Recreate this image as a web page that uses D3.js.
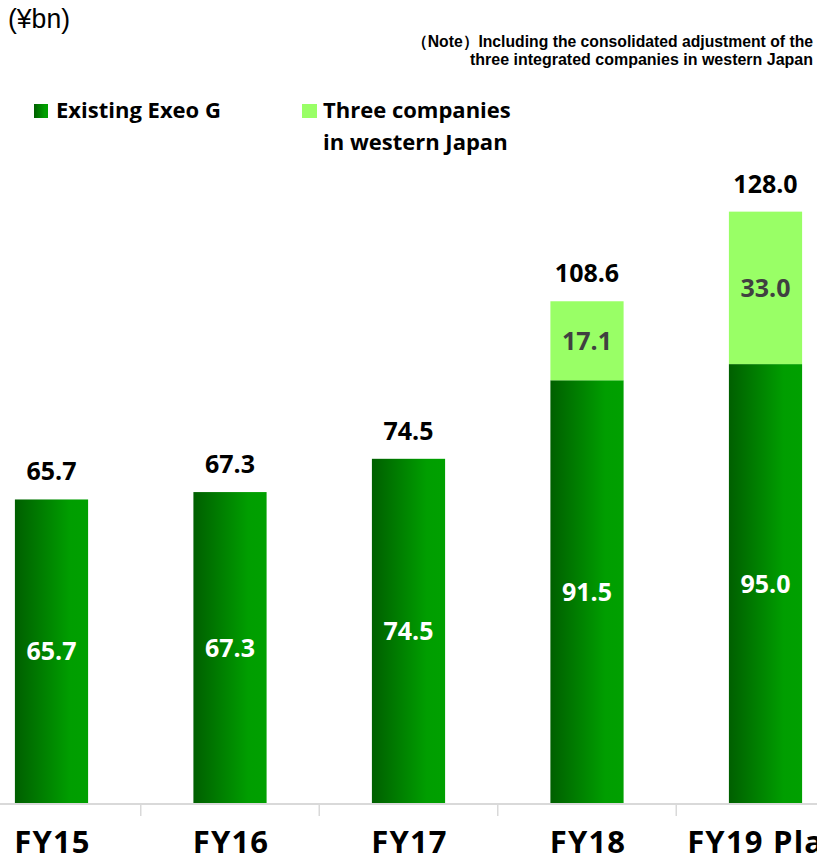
<!DOCTYPE html>
<html>
<head>
<meta charset="utf-8">
<script src="https://cdn.jsdelivr.net/npm/d3@7"></script>
<style>
  html, body { margin: 0; padding: 0; background: #fff; }
  svg { display: block; }
</style>
</head>
<body>
<svg id="chart" width="817" height="861"></svg>
<script>
// Net sales by fiscal year (¥bn)
const categories = ["FY15", "FY16", "FY17", "FY18", "FY19 Plan"];
const existingExeo = [65.7, 67.3, 74.5, 91.5, 95.0];
const westernJapan = [0, 0, 0, 17.1, 33.0];
const totals = [65.7, 67.3, 74.5, 108.6, 128.0];
const seriesNames = ["Existing Exeo G", "Three companies", "in western Japan"];
const unitLabel = "(¥bn)";
const noteLines = [
  "（Note）Including the consolidated adjustment of the",
  "three integrated companies in western Japan"
];

const W = 817, H = 861;
const svg = d3.select("#chart");
const font = "'Open Sans', 'Noto Sans', sans-serif";
const sansFont = "'Liberation Sans', Arial, sans-serif";

const defs = svg.append("defs");
const grad = defs.append("linearGradient")
  .attr("id", "exeoGrad").attr("x1", "0%").attr("x2", "100%").attr("y1", "0%").attr("y2", "0%");
grad.append("stop").attr("offset", "0%").attr("stop-color", "#005f00");
grad.append("stop").attr("offset", "75%").attr("stop-color", "#009e00");
grad.append("stop").attr("offset", "100%").attr("stop-color", "#00a000");

const lightGreen = "#99ff66";

const x = d3.scaleBand()
  .domain(categories)
  .range([-37.75, 854.75])
  .paddingInner(0.59)
  .paddingOuter(0.295);

const baseY = 803;
const y = d3.scaleLinear().domain([0, 150]).range([baseY, baseY - 4.62 * 150]);

const rows = categories.map((c, i) => ({
  cat: c, exeo: existingExeo[i], west: westernJapan[i], total: totals[i]
}));

// Existing Exeo G segment
svg.append("g").selectAll("rect").data(rows).join("rect")
  .attr("x", d => x(d.cat))
  .attr("width", x.bandwidth())
  .attr("y", d => y(d.exeo))
  .attr("height", d => y(0) - y(d.exeo))
  .attr("fill", "url(#exeoGrad)");

// Three companies in western Japan segment
svg.append("g").selectAll("rect").data(rows.filter(d => d.west > 0)).join("rect")
  .attr("x", d => x(d.cat))
  .attr("width", x.bandwidth())
  .attr("y", d => y(d.exeo + d.west))
  .attr("height", d => y(d.exeo) - y(d.exeo + d.west))
  .attr("fill", lightGreen);

// Segment value labels
svg.append("g").selectAll("text").data(rows).join("text")
  .attr("x", d => x(d.cat) + x.bandwidth() / 2)
  .attr("y", d => (y(0) + y(d.exeo)) / 2)
  .attr("dy", "0.36em")
  .attr("text-anchor", "middle")
  .attr("font-family", font).attr("font-weight", 700).attr("font-size", 25)
  .attr("fill", "#ffffff")
  .text(d => d.exeo.toFixed(1));

svg.append("g").selectAll("text").data(rows.filter(d => d.west > 0)).join("text")
  .attr("x", d => x(d.cat) + x.bandwidth() / 2)
  .attr("y", d => (y(d.exeo) + y(d.exeo + d.west)) / 2)
  .attr("dy", "0.36em")
  .attr("text-anchor", "middle")
  .attr("font-family", font).attr("font-weight", 700).attr("font-size", 25)
  .attr("fill", "#404040")
  .text(d => d.west.toFixed(1));

// Totals above bars
svg.append("g").selectAll("text").data(rows).join("text")
  .attr("x", d => x(d.cat) + x.bandwidth() / 2)
  .attr("y", d => y(d.total) - 19)
  .attr("text-anchor", "middle")
  .attr("font-family", font).attr("font-weight", 700).attr("font-size", 25)
  .attr("fill", "#000000")
  .text(d => d.total.toFixed(1));

// Category axis
svg.append("line")
  .attr("x1", 0).attr("x2", W).attr("y1", baseY + 1).attr("y2", baseY + 1)
  .attr("stroke", "#d9d9d9").attr("stroke-width", 2);

const boundaries = categories.slice(1).map(c => x(c) - x.step() * x.paddingInner() / 2);
svg.append("g").selectAll("line").data(boundaries).join("line")
  .attr("x1", d => d).attr("x2", d => d)
  .attr("y1", baseY + 1).attr("y2", baseY + 13)
  .attr("stroke", "#d9d9d9").attr("stroke-width", 1.5);

svg.append("g").selectAll("text").data(categories).join("text")
  .attr("x", d => x(d) + x.bandwidth() / 2 + 1)
  .attr("y", 853)
  .attr("text-anchor", "middle")
  .attr("font-family", font).attr("font-weight", 700).attr("font-size", 31)
  .attr("letter-spacing", 1.2)
  .attr("fill", "#000000")
  .text(d => d);

// Unit label
svg.append("text")
  .attr("x", 8).attr("y", 28)
  .attr("font-family", sansFont).attr("font-size", 27)
  .attr("textLength", 62).attr("lengthAdjust", "spacingAndGlyphs")
  .attr("fill", "#000")
  .text(unitLabel);

// Note, two right-aligned lines
const noteSpans = [[412, 401], [470, 343]];
svg.append("g").selectAll("text").data(noteLines).join("text")
  .attr("x", (d, i) => noteSpans[i][0])
  .attr("y", (d, i) => 47 + i * 18)
  .attr("textLength", (d, i) => noteSpans[i][1])
  .attr("lengthAdjust", "spacingAndGlyphs")
  .attr("font-family", sansFont)
  .attr("font-weight", 700).attr("font-size", 16)
  .attr("fill", "#000")
  .text(d => d);

// Legend
const legend = svg.append("g");
legend.append("rect").attr("x", 34).attr("y", 104).attr("width", 14).attr("height", 14)
  .attr("fill", "url(#exeoGrad)");
legend.append("text").attr("x", 56).attr("y", 118)
  .attr("font-family", font).attr("font-weight", 700).attr("font-size", 22)
  .text(seriesNames[0]);
legend.append("rect").attr("x", 302).attr("y", 104).attr("width", 15).attr("height", 14)
  .attr("fill", lightGreen);
legend.append("text").attr("x", 323).attr("y", 118)
  .attr("font-family", font).attr("font-weight", 700).attr("font-size", 22)
  .text(seriesNames[1]);
legend.append("text").attr("x", 323).attr("y", 150)
  .attr("font-family", font).attr("font-weight", 700).attr("font-size", 22)
  .text(seriesNames[2]);
</script>
</body>
</html>
